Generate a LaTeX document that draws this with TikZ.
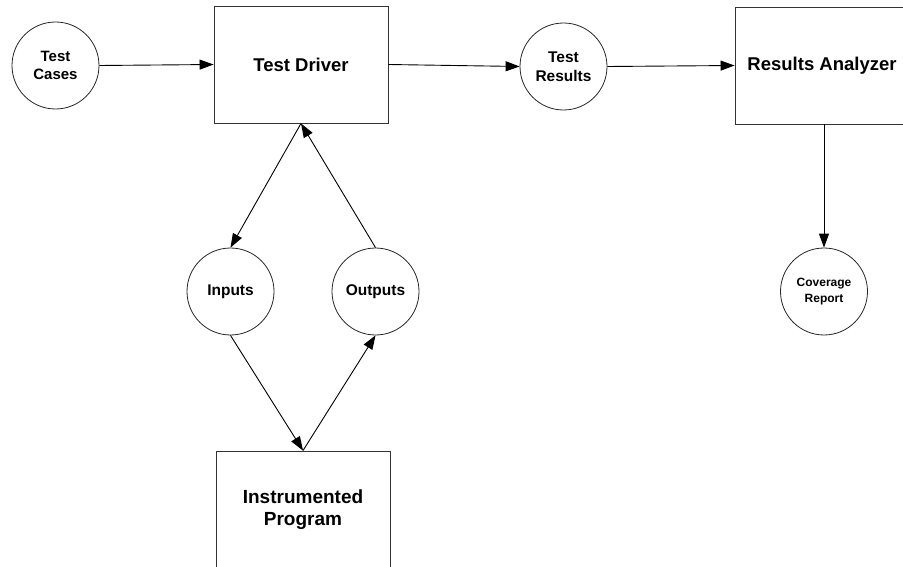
\documentclass[tikz,border=0pt]{standalone}
\usepackage{fontspec}
\setmainfont{Liberation Sans}
\usetikzlibrary{arrows.meta}
\begin{document}
\begin{tikzpicture}[x=1pt,y=-1pt,
  every node/.style={font=\bfseries},
  proc/.style={draw=black!80, line width=0.9pt, minimum width=174pt, minimum height=117pt, inner sep=0pt, align=center},
  store/.style={draw=black!85, line width=0.8pt, circle, minimum size=87pt, inner sep=0pt, align=center},
  flow/.style={line width=0.9pt, -{Triangle[length=14pt,width=10pt]}}
]
\useasboundingbox (0,0) rectangle (903,567);
\clip (0,0) rectangle (903,567);
\node[store, font=\bfseries\fontsize{15}{18}\selectfont] (tc) at (55.5,65.5) {Test\\Cases};
\node[proc, font=\bfseries\fontsize{18.5}{22}\selectfont] (td) at (301,64.5) {Test Driver};
\node[store, font=\bfseries\fontsize{15.5}{18.5}\selectfont] (tr) at (563.5,66.5) {Test\\Results};
\node[proc, font=\bfseries\fontsize{18.5}{22}\selectfont] (ra) at (822,65.5) {Results Analyzer};
\node[store, font=\bfseries\fontsize{15.5}{18.5}\selectfont] (in) at (230.5,291.5) {Inputs};
\node[store, font=\bfseries\fontsize{15.5}{18.5}\selectfont] (out) at (375.5,291.5) {Outputs};
\node[store, font=\bfseries\fontsize{12}{16}\selectfont] (cr) at (824,291.5) {Coverage\\Report};
\node[proc, font=\bfseries\fontsize{19}{22}\selectfont] (ip) at (303,509.5) {Instrumented\\Program};
\draw[flow] (tc.east) -- (td.west);
\draw[flow] (td.east) -- (tr.west);
\draw[flow] (tr.east) -- (ra.west);
\draw[flow] (cr.north |- ra.south) -- (cr.north);
\draw[flow] (td.south) -- (in.north);
\draw[flow] (out.north) -- (td.south);
\draw[flow] (in.south) -- (ip.north);
\draw[flow] (ip.north) -- (out.south);
\end{tikzpicture}
\end{document}
